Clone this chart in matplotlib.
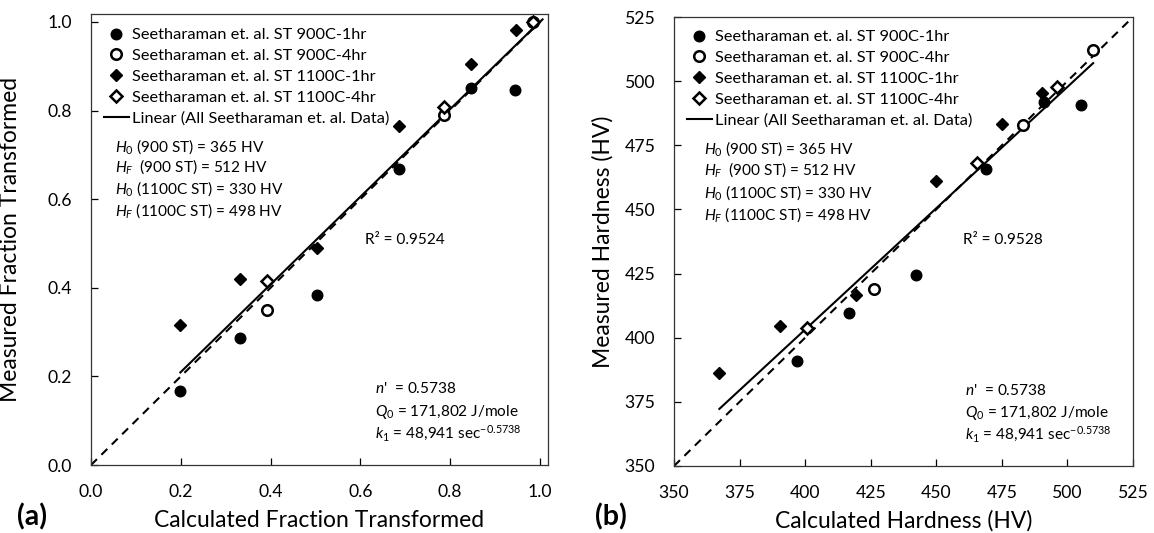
import numpy as np
import matplotlib
matplotlib.use("Agg")
import matplotlib.pyplot as plt
from matplotlib.lines import Line2D

plt.rcParams['font.family'] = ['Lato', 'DejaVu Sans']
plt.rcParams['mathtext.fontset'] = 'custom'
plt.rcParams['mathtext.rm'] = 'Lato'
plt.rcParams['mathtext.it'] = 'Lato:italic'
plt.rcParams['mathtext.bf'] = 'Lato:bold'

# (a) fraction transformed: calculated vs measured
frac_900_1hr_calc = [0.199, 0.331, 0.503, 0.685, 0.846, 0.944]
frac_900_1hr_meas = [0.166, 0.286, 0.384, 0.668, 0.851, 0.846]
frac_900_4hr_calc = [0.393, 0.787, 0.985]
frac_900_4hr_meas = [0.350, 0.791, 1.000]
frac_1100_1hr_calc = [0.199, 0.333, 0.504, 0.687, 0.847, 0.946]
frac_1100_1hr_meas = [0.316, 0.420, 0.490, 0.765, 0.905, 0.983]
frac_1100_4hr_calc = [0.393, 0.787, 0.985]
frac_1100_4hr_meas = [0.416, 0.808, 1.000]

# (b) hardness (HV): calculated vs measured
hv_900_1hr_calc = [396.8, 416.8, 442.4, 469.1, 491.0, 505.0]
hv_900_1hr_meas = [390.8, 409.6, 424.6, 465.6, 491.7, 490.6]
hv_900_4hr_calc = [426.1, 483.0, 509.8]
hv_900_4hr_meas = [419.0, 483.1, 512.1]
hv_1100_1hr_calc = [367.3, 390.5, 419.5, 450.0, 475.1, 490.4]
hv_1100_1hr_meas = [386.4, 404.4, 416.5, 461.0, 483.2, 495.2]
hv_1100_4hr_calc = [400.6, 465.5, 496.1]
hv_1100_4hr_meas = [403.8, 468.2, 497.9]

series_labels = ['Seetharaman et. al. ST 900C-1hr',
                 'Seetharaman et. al. ST 900C-4hr',
                 'Seetharaman et. al. ST 1100C-1hr',
                 'Seetharaman et. al. ST 1100C-4hr']
fit_label = 'Linear (All Seetharaman et. al. Data)'

param_lines = [r'$H_{\mathit{0}}$ (900 ST) = 365 HV',
               r'$H_F$  (900 ST) = 512 HV',
               r'$H_{\mathit{0}}$ (1100C ST) = 330 HV',
               r'$H_F$ (1100C ST) = 498 HV']
kinetic_lines = [r"$n$'  = 0.5738",
                 r'$Q_0$ = 171,802 J/mole',
                 r'$k_1$ = 48,941 sec$^{\mathregular{-0.5738}}$']

STYLES = [dict(marker='o', ms=7.6, mfc='black', mec='black', mew=1.0),
          dict(marker='o', ms=7.6, mfc='white', mec='black', mew=1.8),
          dict(marker='D', ms=5.8, mfc='black', mec='black', mew=1.0),
          dict(marker='D', ms=5.8, mfc='white', mec='black', mew=1.8)]

LEGEND_SIZE = 11.8
TXT = 11.1
TICK_SIZE = 12.7
LABEL_SIZE = 16.5


def draw_panel(ax, series, lims, ticks, tick_fmt, r2_text, xlabel, ylabel,
               legend_anchor, r2_pos, text_x, param_y, kin_x, kin_y,
               label_xy):
  """Scatter the four data sets, the 1:1 line and a linear fit."""
  ax.plot(lims, lims, color='black', lw=1.5, ls=(0, (4, 3)), zorder=1)

  all_x = np.concatenate([s[0] for s in series])
  all_y = np.concatenate([s[1] for s in series])
  slope, icpt = np.polyfit(all_x, all_y, 1)
  fx = np.array([all_x.min(), all_x.max()])
  ax.plot(fx, slope * fx + icpt, color='black', lw=1.5, zorder=2)

  for (xs, ys), st in zip(series, STYLES):
    ax.plot(xs, ys, ls='none', zorder=3, **st)

  handles = [Line2D([], [], ls='none', **st) for st in STYLES]
  handles.append(Line2D([], [], color='black', lw=1.5))
  ax.legend(handles, series_labels + [fit_label], loc='upper left',
            bbox_to_anchor=legend_anchor, frameon=False,
            fontsize=LEGEND_SIZE, handlelength=1.52, handletextpad=0.18,
            labelspacing=0.38, borderaxespad=0.0, borderpad=0.0)

  for txt, y in zip(param_lines, param_y):
    ax.text(text_x, y, txt, transform=ax.transAxes, fontsize=TXT,
            va='center', ha='left')
  ax.text(r2_pos[0], r2_pos[1], r2_text, transform=ax.transAxes,
          fontsize=TXT, va='center', ha='left')
  for txt, y in zip(kinetic_lines, kin_y):
    ax.text(kin_x, y, txt, transform=ax.transAxes, fontsize=TXT,
            va='center', ha='left')

  ax.set_xlim(lims)
  ax.set_ylim(lims)
  ax.set_xticks(ticks)
  ax.set_yticks(ticks)
  ax.set_xticklabels([tick_fmt % t for t in ticks])
  ax.set_yticklabels([tick_fmt % t for t in ticks])
  ax.tick_params(direction='in', length=5, width=0.9, labelsize=TICK_SIZE,
                 pad=13.5, colors='black')
  for sp in ax.spines.values():
    sp.set_linewidth(0.9)
    sp.set_color('#333333')
  ax.set_xlabel(xlabel, fontsize=LABEL_SIZE)
  ax.set_ylabel(ylabel, fontsize=LABEL_SIZE)
  ax.xaxis.set_label_coords(0.5, label_xy[1])
  ax.yaxis.set_label_coords(label_xy[0], 0.5)


fig = plt.figure(figsize=(11.54, 5.33), dpi=100)
ax_a = fig.add_axes([91 / 1154., 68 / 533., 457 / 1154., 451 / 533.])
ax_b = fig.add_axes([674 / 1154., 67 / 533., 459 / 1154., 449 / 533.])

draw_panel(ax_a,
           [(frac_900_1hr_calc, frac_900_1hr_meas),
            (frac_900_4hr_calc, frac_900_4hr_meas),
            (frac_1100_1hr_calc, frac_1100_1hr_meas),
            (frac_1100_4hr_calc, frac_1100_4hr_meas)],
           (0.0, 1.018), np.arange(0, 1.01, 0.2), '%.1f', 'R² = 0.9524',
           'Calculated Fraction Transformed', 'Measured Fraction Transformed',
           (0.0285, 0.969), (0.600, 0.499), 0.0525,
           [0.707, 0.661, 0.612, 0.565], 0.621, [0.169, 0.118, 0.071],
           (-0.153, -0.099))

draw_panel(ax_b,
           [(hv_900_1hr_calc, hv_900_1hr_meas),
            (hv_900_4hr_calc, hv_900_4hr_meas),
            (hv_1100_1hr_calc, hv_1100_1hr_meas),
            (hv_1100_4hr_calc, hv_1100_4hr_meas)],
           (350, 525), np.arange(350, 526, 25), '%d', 'R² = 0.9528',
           'Calculated Hardness (HV)', 'Measured Hardness (HV)',
           (0.0283, 0.971), (0.630, 0.503), 0.065,
           [0.706, 0.661, 0.608, 0.561], 0.634, [0.169, 0.118, 0.071],
           (-0.131, -0.098))

fig.text(17 / 1154., 1 - 517 / 533., '(a)', fontsize=20.5, fontweight='bold',
         va='center', ha='left')
fig.text(595 / 1154., 1 - 517 / 533., '(b)', fontsize=20.5, fontweight='bold',
         va='center', ha='left')

fig.savefig('out.png', dpi=100)
